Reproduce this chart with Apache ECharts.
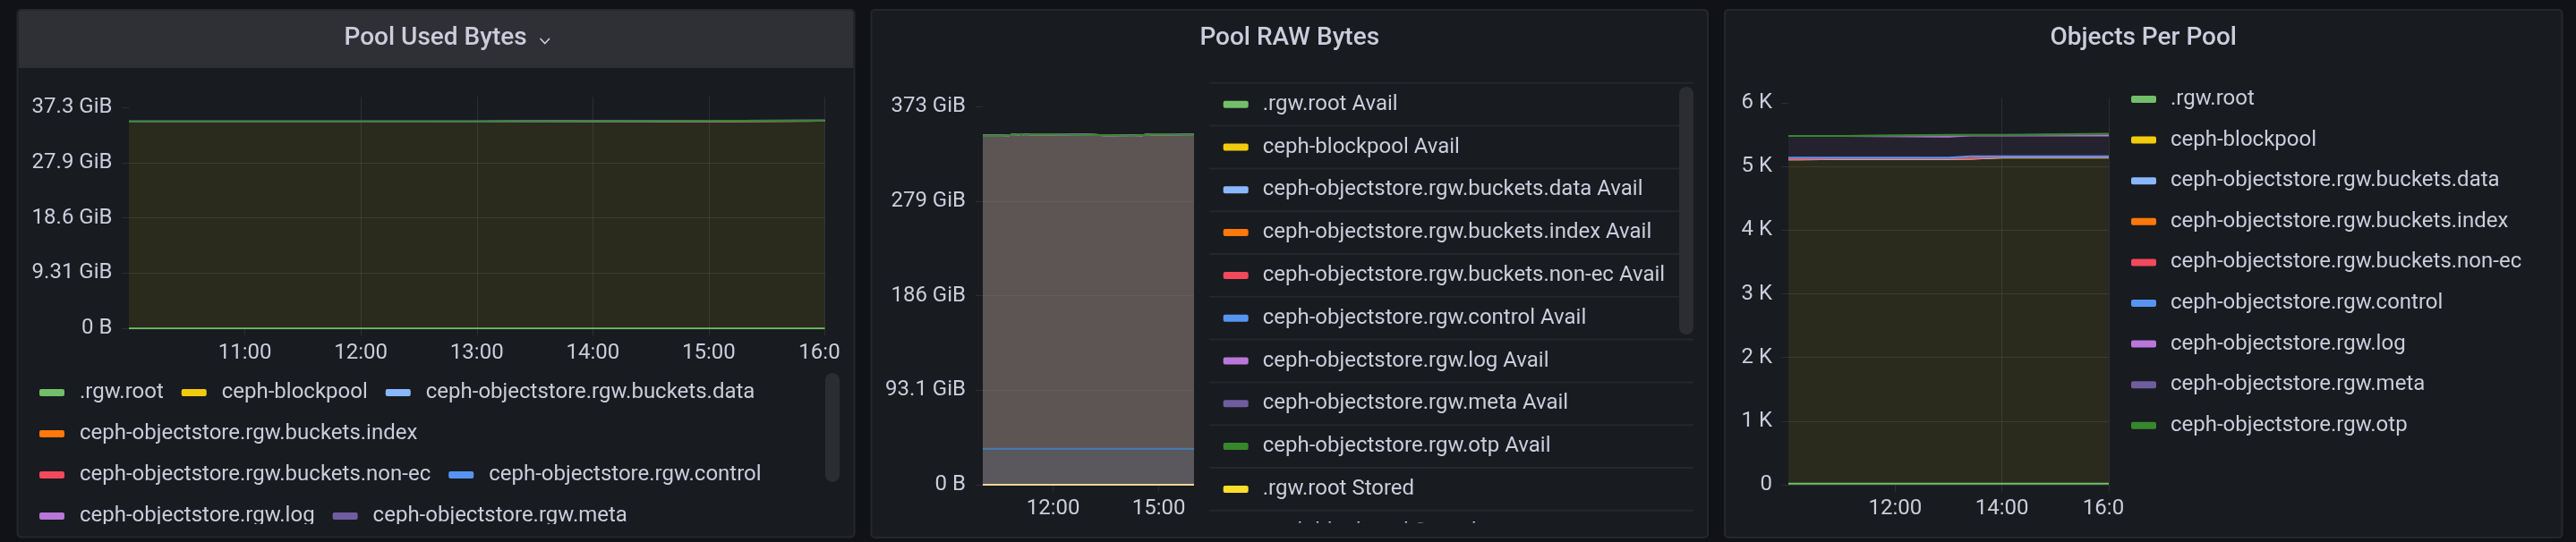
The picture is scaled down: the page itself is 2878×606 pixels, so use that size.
<!DOCTYPE html>
<html>
<head>
<meta charset="utf-8">
<script src="https://cdn.jsdelivr.net/npm/echarts@6/dist/echarts.min.js"></script>
<style>
html,body{margin:0;padding:0;background:#111217;}
#c{width:2878px;height:606px;}
</style>
</head>
<body>
<div id="c"></div>
<script>
// ---------- shared categories ----------
const poolNames = ['.rgw.root','ceph-blockpool','ceph-objectstore.rgw.buckets.data','ceph-objectstore.rgw.buckets.index','ceph-objectstore.rgw.buckets.non-ec','ceph-objectstore.rgw.control','ceph-objectstore.rgw.log','ceph-objectstore.rgw.meta','ceph-objectstore.rgw.otp'];
const poolColors = ['#73BF69','#F2CC0C','#8AB8FF','#FF780A','#F2495C','#5794F2','#B877D9','#705DA0','#37872D'];
const storedColors = ['#FADE2A','#447EBC','#C15C17','#890F02','#0A437C','#6D1F62','#584477','#B7DBAB','#F4D598'];

// ---------- Panel 1: Pool Used Bytes (values in GB = 1e9 bytes, stacked) ----------
const usedTimes = ['10:00','13:00','16:00'];
const usedRootGB        = [0.001, 0.001, 0.001];
const usedBlockpoolGB   = [37.40, 37.56, 37.56];
const usedBucketsDataGB = [0.020, 0.020, 0.020];
const usedBucketsIdxGB  = [0, 0, 0];
const usedNonEcGB       = [0, 0, 0];
const usedControlGB     = [0, 0, 0];
const usedLogGB         = [0.035, 0.035, 0.035];
const usedMetaGB        = [0.004, 0.004, 0.004];
const usedOtpGB         = [0, 0, 0];
const usedTickTimes  = ['11:00','12:00','13:00','14:00','15:00','16:00'];
const usedTickLabels = ['11:00','12:00','13:00','14:00','15:00','16:0'];

// ---------- Panel 2: Pool RAW Bytes (GB) ----------
const rawTimes   = ['10:00','10:33','11:05','11:13','11:28','12:59','14:18','14:21','14:56','16:00'];
const rawAvailGB = [369.3, 371.1, 370.2, 371.1, 370.2, 369.3, 370.2, 371.1, 370.2, 370.2];
const storedTimes = ['10:00','16:00'];
const storedRootGB        = [0.002, 0.002];
const storedBlockpoolGB   = [38.1, 38.1];
const storedBucketsDataGB = [0.01, 0.01];
const storedBucketsIdxGB  = [0, 0];
const storedNonEcGB       = [0, 0];
const storedControlGB     = [0, 0];
const storedLogGB         = [0.012, 0.012];
const storedMetaGB        = [0.001, 0.001];
const storedOtpGB         = [0, 0];
const rawTickTimes  = ['12:00','15:00'];
const rawTickLabels = ['12:00','15:00'];

// ---------- Panel 3: Objects Per Pool (stacked) ----------
const objTimes = ['10:00','10:10','11:04','13:00','13:25','14:00','16:00'];
const objRoot        = [16, 16, 16, 16, 16, 16, 16];
const objBlockpool   = [5097, 5104, 5104, 5107, 5127, 5127, 5127];
const objBucketsData = [2, 2, 2, 2, 2, 2, 2];
const objBucketsIdx  = [11, 11, 11, 11, 11, 11, 11];
const objNonEc       = [0, 0, 0, 0, 0, 0, 0];
const objControl     = [15, 8, 8, 28, 8, 8, 8];
const objLog         = [341, 341, 333, 326, 326, 326, 326];
const objMeta        = [0, 0, 20, 4, 4, 21, 21];
const objOtp         = [2, 2, 6, 6, 6, 6, 6];
const objTickTimes  = ['12:00','14:00','16:00'];
const objTickLabels = ['12:00','14:00','16:0'];

// ---------- helpers ----------
const GRID = 'rgba(240,250,255,0.09)';
const TEXT = '#ccccdc';
const FONT = 'Roboto';
const PANEL_BG = '#181b1f';
const PAGE_BG = '#111217';
const FILL_OP = 0.085;

function toMin(t){ const p = t.split(':').map(Number); return p[0]*60 + p[1]; }
// value column first so that the stack is computed on the value (y) dimension
function pts(times, vals){ return times.map((t,i) => [vals[i], toMin(t)]); }
function lineSeries(name, color, data, idx, stack){
  return {
    name, type:'line', xAxisIndex:idx, yAxisIndex:idx, data, step:'end',
    encode:{x:1, y:0},
    symbol:'none', showSymbol:false, stack: stack || undefined,
    lineStyle:{width:2, color}, itemStyle:{color},
    areaStyle:{color, opacity:FILL_OP},
    emphasis:{disabled:true}, silent:true, animation:false
  };
}
function timeLabeler(tickTimes, tickLabels){
  const mins = tickTimes.map(toMin);
  return v => {
    const i = mins.indexOf(v);
    if (i < 0) return '';
    const s = tickLabels[i];
    return s.length < tickTimes[i].length ? '{cut|' + s + '}' : s;
  };
}
const labelFont = {color:TEXT, fontSize:24, fontFamily:FONT};
const richCut = {cut:{color:TEXT, fontSize:24, fontFamily:FONT, padding:[0,12,0,0]}};
function gib(v){ return v === 0 ? '0 B' : (v*1e9/1073741824).toPrecision(3) + ' GiB'; }

// ---------- series ----------
const usedSets = [usedRootGB,usedBlockpoolGB,usedBucketsDataGB,usedBucketsIdxGB,usedNonEcGB,usedControlGB,usedLogGB,usedMetaGB,usedOtpGB];
const storedSets = [storedRootGB,storedBlockpoolGB,storedBucketsDataGB,storedBucketsIdxGB,storedNonEcGB,storedControlGB,storedLogGB,storedMetaGB,storedOtpGB];
const objSets = [objRoot,objBlockpool,objBucketsData,objBucketsIdx,objNonEc,objControl,objLog,objMeta,objOtp];

const series = [];
poolNames.forEach((n,i) => series.push(lineSeries(n, poolColors[i], pts(usedTimes, usedSets[i]), 0, 'used')));
const availNames = poolNames.map(n => n + ' Avail');
const storedNames = poolNames.map(n => n + ' Stored');
availNames.forEach((n,i) => series.push(lineSeries(n, poolColors[i], pts(rawTimes, rawAvailGB), 1)));
storedNames.forEach((n,i) => series.push(lineSeries(n, storedColors[i], pts(storedTimes, storedSets[i]), 1)));
poolNames.forEach((n,i) => series.push(lineSeries(n, poolColors[i], pts(objTimes, objSets[i]), 2, 'objects')));

// ---------- axes ----------
function xAxis(idx, interval, tickTimes, tickLabels){
  return {
    gridIndex:idx, type:'value', min:toMin('10:00'), max:toMin('16:00'), interval,
    axisLine:{show:false},
    axisTick:{show:true, length:8, customValues: tickTimes.map(toMin), lineStyle:{color:GRID, width:1}},
    splitLine:{show:true, showMinLine:false, lineStyle:{color:GRID, width:1}},
    axisLabel:Object.assign({margin:15, showMinLabel:false, showMaxLabel:true, formatter: timeLabeler(tickTimes, tickLabels), rich:richCut}, labelFont)
  };
}
function yAxis(idx, max, interval, formatter, margin){
  const ticks = [];
  for (let v = 0; v <= max; v += interval) ticks.push(v);
  return {
    gridIndex:idx, type:'value', min:0, max, interval,
    axisLine:{show:false},
    axisTick:{show:true, length:8, customValues:ticks, lineStyle:{color:GRID, width:1}},
    splitLine:{show:true, showMaxLine:false, lineStyle:{color:GRID, width:1}},
    axisLabel:Object.assign({margin, showMaxLabel:false, formatter}, labelFont)
  };
}

const xAxes = [
  xAxis(0, 60, usedTickTimes, usedTickLabels),
  xAxis(1, 60, rawTickTimes, rawTickLabels),
  xAxis(2, 120, objTickTimes, objTickLabels)
];
xAxes[0].axisLabel.margin = 16;
// Panel 2 shows only every third hourly line (12:00, 15:00)
xAxes[1].splitLine = {show:true, lineStyle:{color:['rgba(0,0,0,0)','rgba(0,0,0,0)',GRID], width:1}};

const yAxes = [
  yAxis(0, 41.89, 10, gib, 18.5),
  yAxis(1, 409.8, 100, gib, 19),
  yAxis(2, 6082, 1000, v => v === 0 ? '0' : (v/1000) + ' K', 18)
];

// ---------- legends ----------
function legend(opts, names){
  return Object.assign({
    type:'plain', padding:0, itemWidth:28, itemHeight:8, icon:'roundRect',
    selectedMode:false, itemStyle:{borderWidth:0}, data:names
  }, opts);
}
const legends = [
  legend({left:44, top:426, width:850, orient:'horizontal', itemGap:20,
    textStyle:{color:TEXT, fontSize:24, fontFamily:FONT, lineHeight:26, padding:[0,0,0,12]}}, poolNames),
  legend({left:1366.7, top:102.7, height:3000, orient:'vertical', itemGap:19.8,
    textStyle:{color:TEXT, fontSize:24, fontFamily:FONT, lineHeight:28, padding:[0,0,0,11]}}, availNames.concat(storedNames)),
  legend({left:2381, top:98, height:3000, orient:'vertical', itemGap:19.6,
    textStyle:{color:TEXT, fontSize:24, fontFamily:FONT, lineHeight:26, padding:[0,0,0,11]}}, poolNames)
];

// ---------- panel chrome ----------
const panelBoxes = [[19.5,11,935,589.5],[973.5,11,934.5,590],[1927,11,935.5,590]];
const graphic = [];
panelBoxes.forEach(b => {
  graphic.push({type:'rect', z:-10, silent:true,
    shape:{x:b[0], y:b[1], width:b[2], height:b[3], r:4}, style:{fill:PANEL_BG}});
  graphic.push({type:'rect', z:60, silent:true,
    shape:{x:b[0], y:b[1], width:b[2], height:b[3], r:4}, style:{fill:null, stroke:'#25272c', lineWidth:2}});
});
graphic.push({type:'rect', z:-9, silent:true, shape:{x:20.5, y:12, width:933, height:64, r:[3,3,0,0]}, style:{fill:'#2f3035'}});
function titleText(text, x, align){
  return {type:'text', z:10, silent:true, style:{text, x, y:43, fill:TEXT, fontSize:28, fontWeight:500, fontFamily:FONT,
    align, verticalAlign:'middle', textAlign:align, textVerticalAlign:'middle'}};
}
graphic.push(titleText('Pool Used Bytes', 384.5, 'left'));
graphic.push(titleText('Pool RAW Bytes', 1440.75, 'center'));
graphic.push(titleText('Objects Per Pool', 2394.75, 'center'));
graphic.push({type:'polyline', z:10, silent:true, shape:{points:[[603.5,43],[608.8,48.5],[614,43]]}, style:{stroke:TEXT, lineWidth:1.6, fill:null}});
// legend table row borders (panel 2)
const rawRowPitch = 47.8, rawLegendTop = 102.7;
for (let k = 0; k < 11; k++) {
  const y = rawLegendTop - 9.9 + k*rawRowPitch;
  graphic.push({type:'line', z:1, silent:true, shape:{x1:1351, y1:y, x2:1892, y2:y}, style:{stroke:'#25272c', lineWidth:2}});
}
// scrollbar thumbs
graphic.push({type:'rect', z:5, silent:true, shape:{x:922, y:417, width:16, height:122, r:8}, style:{fill:'#2c2d33'}});
graphic.push({type:'rect', z:5, silent:true, shape:{x:1876, y:97, width:16, height:277, r:8}, style:{fill:'#2c2d33'}});
// legend scroll-area clipping
graphic.push({type:'rect', z:50, silent:true, shape:{x:21, y:586, width:932, height:14}, style:{fill:PANEL_BG}});
graphic.push({type:'rect', z:50, silent:true, shape:{x:975, y:584.5, width:931, height:16.5}, style:{fill:PANEL_BG}});
graphic.push({type:'rect', z:50, silent:true, shape:{x:960, y:601, width:962, height:10}, style:{fill:PAGE_BG}});

const option = {
  backgroundColor:PAGE_BG,
  animation:false,
  textStyle:{fontFamily:FONT},
  grid:[
    {left:144, top:108.3, width:777.5, height:259, containLabel:false},
    {left:1098, top:109, width:236, height:433, containLabel:false},
    {left:1998, top:109.4, width:358, height:432.6, containLabel:false}
  ],
  xAxis:xAxes,
  yAxis:yAxes,
  legend:legends,
  series,
  graphic
};
const chart = echarts.init(document.getElementById('c'), null, {renderer:'canvas'});
chart.setOption(option);
</script>
</body>
</html>
